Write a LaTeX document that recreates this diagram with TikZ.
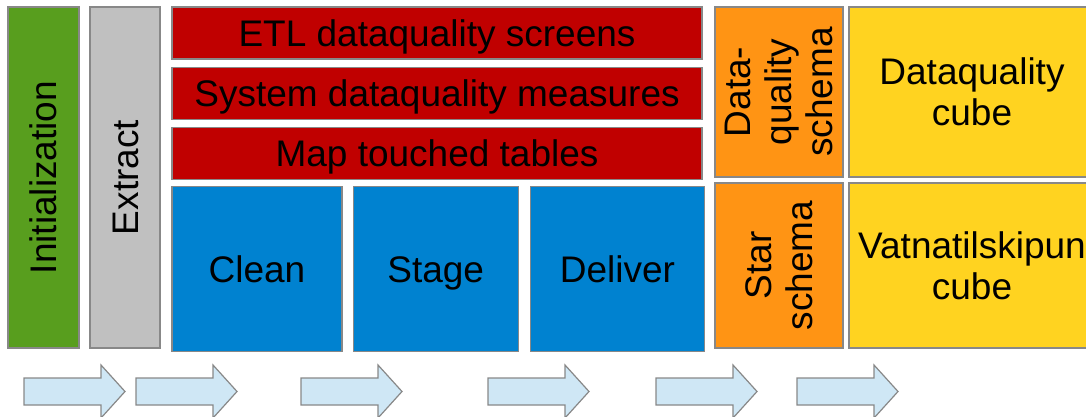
\documentclass[tikz,border=0pt]{standalone}
\usepackage{fontspec}
\setmainfont{Liberation Sans}
\usetikzlibrary{positioning}
\definecolor{initgreen}{RGB}{88,158,30}
\definecolor{extractgray}{RGB}{192,192,192}
\definecolor{dqred}{RGB}{192,0,0}
\definecolor{etlblue}{RGB}{0,130,208}
\definecolor{schemaorange}{RGB}{255,148,20}
\definecolor{cubeyellow}{RGB}{255,211,32}
\definecolor{arrowblue}{RGB}{207,231,245}
\definecolor{framegray}{RGB}{136,136,136}
\tikzset{
    %Define style for boxes
    blok/.style={
           rectangle,
           draw=framegray,
           line width=1.2pt,
           inner sep=0pt,
           align=center,
           font=\fontsize{37}{41}\selectfont},
    % single line boxes: centre the capitals
    oneline/.style={blok, text height=26.5pt, text depth=0pt},
    redbar/.style={oneline, fill=dqred, minimum width=530pt, minimum height=52pt},
    bluebox/.style={oneline, fill=etlblue, minimum height=165pt},
    % rotated column boxes: width is along the text
    upright/.style={rotate=90},
    % Define style for process arrows
    flowarrow/.style={
           fill=arrowblue,
           draw=framegray,
           line width=1.2pt}
}
\begin{document}
\begin{tikzpicture}[x=1pt, y=-1pt, node distance=7pt]
  \useasboundingbox (0,0) rectangle (1086,416);
  \clip (0,0) rectangle (1086,416);
  % phase columns
  \node[oneline, upright, fill=initgreen, minimum width=341pt, minimum height=71pt] (init) at (43.5,177.5) {Initialization};
  \node[oneline, upright, fill=extractgray, minimum width=341pt, minimum height=70pt] (extract) at (125,177.5) {Extract};
  % dataquality bars
  \node[redbar] (etl) at (437,33) {ETL dataquality screens};
  \node[redbar, below=of etl] (sysdq) {System dataquality measures};
  \node[redbar, below=of sysdq] (maptt) {Map touched tables};
  % ETL steps
  \node[bluebox, minimum width=170pt, below right=6pt and 0pt of maptt.south west] (clean) {Clean};
  \node[bluebox, minimum width=165pt, right=10pt of clean] (stage) {Stage};
  \node[bluebox, minimum width=174pt, right=11pt of stage] (deliver) {Deliver};
  % schemas
  \node[blok, upright, fill=schemaorange, minimum width=170pt, minimum height=128pt] (dqschema) at (779,92) {Data-\\quality\\schema};
  \node[blok, upright, fill=schemaorange, minimum width=165pt, minimum height=128pt] (starschema) at (779,265.5) {Star\\schema};
  % cubes
  \node[blok, fill=cubeyellow, minimum width=246pt, minimum height=170pt] (dqcube) at (972,92) {Dataquality\\cube};
  \node[blok, fill=cubeyellow, minimum width=246pt, minimum height=165pt] (vcube) at (972,265.5) {Vatnatilskipun\\cube};
  % process arrows
  \foreach \ax in {24,136,301,488,656,797}
    \draw[flowarrow] (\ax,378) -- ++(77,0) -- ++(0,-13) -- ++(24,26.5)
      -- ++(-24,26.5) -- ++(0,-13) -- (\ax,405) -- cycle;
\end{tikzpicture}
\end{document}
